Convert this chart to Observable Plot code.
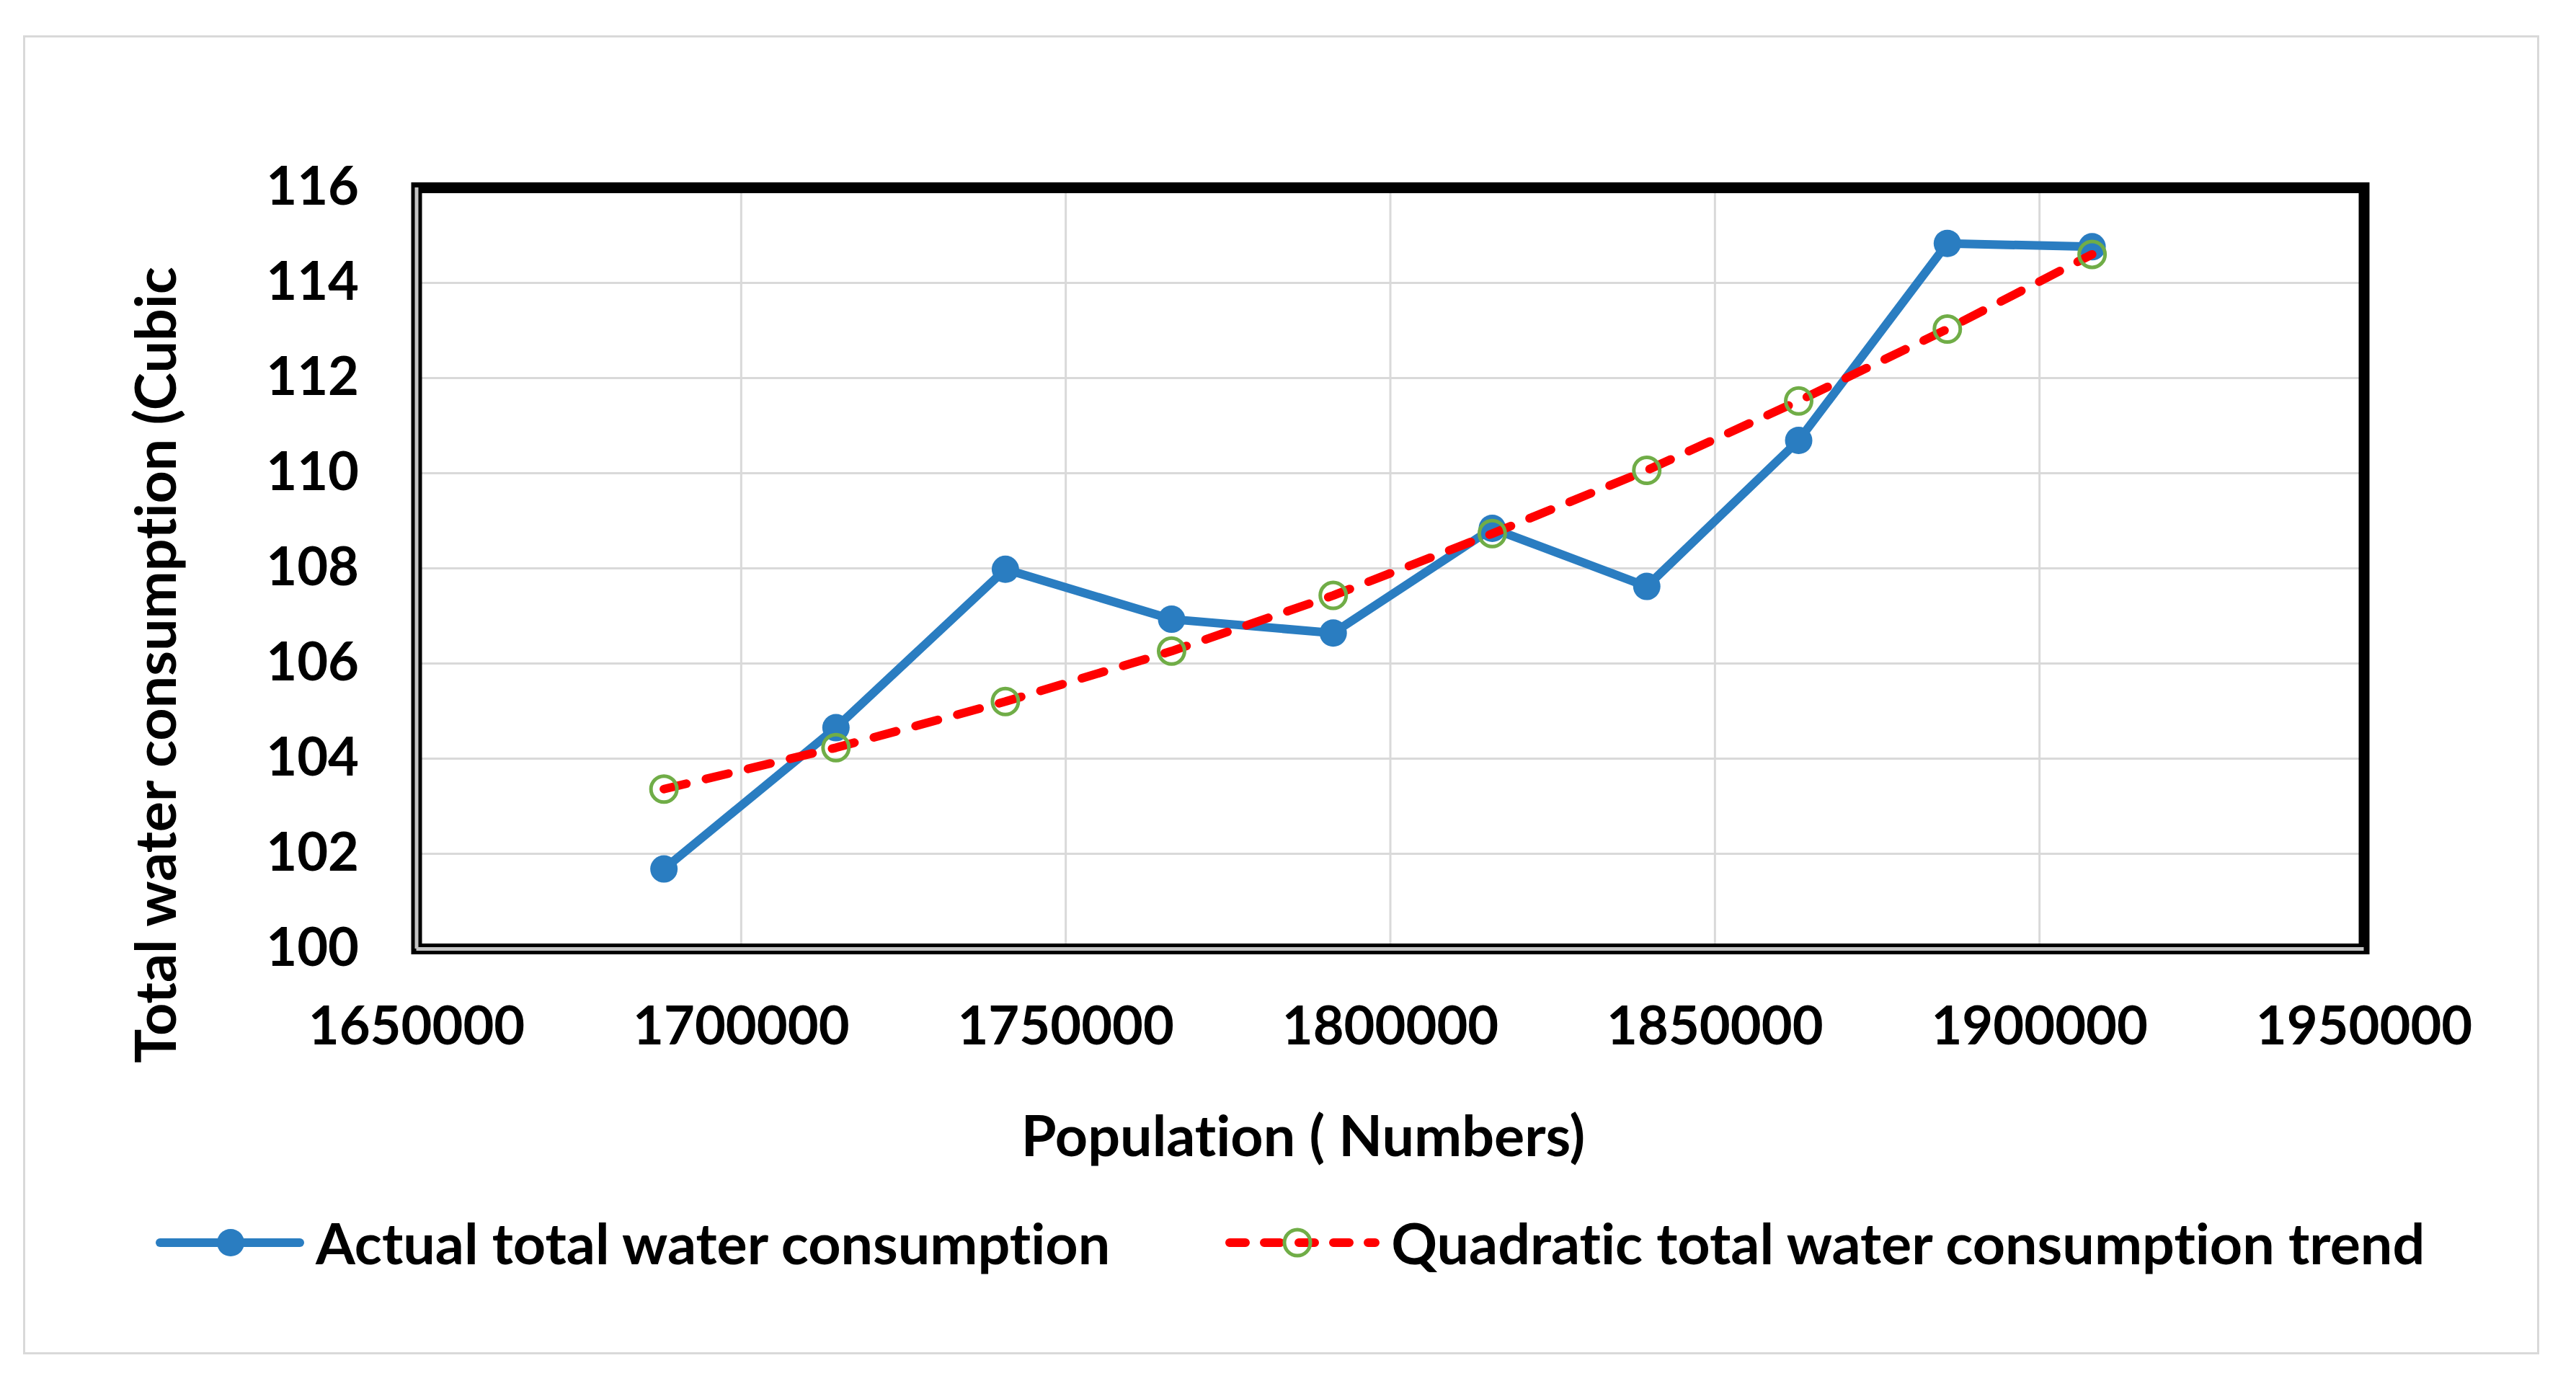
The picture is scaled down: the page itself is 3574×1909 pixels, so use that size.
<!DOCTYPE html>
<html lang="en">

<head>
    <meta charset="UTF-8">
    <title>Total water consumption vs population</title>
    <style>
        body {
            margin: 0;
            padding: 0;
            background-color: #ffffff;
            font-family: 'Lato', 'Noto Sans', sans-serif;
            font-variant-ligatures: none;
        }

        #page {
            position: relative;
            width: 3574px;
            height: 1909px;
            overflow: hidden;
        }

        #box {
            position: absolute;
            left: 32px;
            top: 49px;
            width: 3491px;
            height: 1830px;
            border: 3px solid #d9d9d9;
            box-sizing: border-box;
        }

        #chart {
            position: absolute;
            left: 0;
            top: 0;
        }

        #chart text {
            font-variant-ligatures: none;
        }

        #legend {
            position: absolute;
            left: 216px;
            top: 1676px;
            display: flex;
            align-items: center;
            font-weight: bold;
            font-size: 79px;
            color: #000000;
            white-space: nowrap;
        }

        #legend .item {
            display: flex;
            align-items: center;
        }

        #legend .item svg {
            margin-right: 16px;
        }
    </style>
</head>

<body>

    <div id="page">
        <div id="box"></div>
        <div id="chart"></div>
        <div id="legend">
            <div class="item">
                <svg width="206" height="50">
                    <line x1="6" y1="25" x2="200" y2="25" stroke="#2a7dc1" stroke-width="12" stroke-linecap="round"></line>
                    <circle cx="104" cy="25" r="19" fill="#2a7dc1"></circle>
                </svg>
                <span id="lab1"></span>
            </div>
            <div class="item" style="margin-left:160px">
                <svg width="214" height="50">
                    <line x1="6" y1="25" x2="208" y2="25" stroke="#ff0000" stroke-width="12" stroke-linecap="round" stroke-dasharray="22,26"></line>
                    <circle cx="100" cy="25" r="18" fill="none" stroke="#70ad47" stroke-width="5"></circle>
                </svg>
                <span id="lab2"></span>
            </div>
        </div>
    </div>

    <script src="https://cdn.jsdelivr.net/npm/d3@7"></script>
    <script src="https://cdn.jsdelivr.net/npm/@observablehq/plot@0.6"></script>

    <script>
        // values
        const population = [1688100, 1714600, 1740700, 1766300, 1791200, 1815700, 1839500, 1862900, 1885800, 1908100];
        const actualConsumption = [101.68, 104.65, 107.98, 106.93, 106.64, 108.84, 107.62, 110.69, 114.83, 114.76];
        const quadraticTrend = [103.36, 104.23, 105.2, 106.26, 107.43, 108.73, 110.06, 111.52, 113.03, 114.6];

        const xTicks = [1650000, 1700000, 1750000, 1800000, 1850000, 1900000, 1950000];
        const yTicks = [100, 102, 104, 106, 108, 110, 112, 114, 116];

        const yTitle = "Total water consumption (Cubic";
        const xTitle = "Population ( Numbers)";
        const seriesNames = ["Actual total water consumption", "Quadratic total water consumption trend"];

        const actual = population.map((p, i) => ({ pop: p, value: actualConsumption[i] }));
        const trend = population.map((p, i) => ({ pop: p, value: quadraticTrend[i] }));

        const blue = "#2a7dc1";
        const grid = "#d9d9d9";

        const chart = Plot.plot({
            width: 3574,
            height: 1660,
            marginLeft: 577.5,
            marginRight: 294.5,
            marginTop: 260,
            marginBottom: 344,
            style: {
                fontFamily: "Lato, 'Noto Sans', sans-serif",
                fontWeight: "bold",
                fontSize: "74px",
                color: "#000000",
                background: "transparent"
            },
            x: { domain: [1650000, 1950000] },
            y: { domain: [100, 116] },
            marks: [
                Plot.gridX(xTicks, { stroke: grid, strokeOpacity: 1, strokeWidth: 3 }),
                Plot.gridY(yTicks, { stroke: grid, strokeOpacity: 1, strokeWidth: 3 }),
                Plot.axisX(xTicks, { tickSize: 0, tickPadding: 80, tickFormat: d3.format("d"), label: null }),
                Plot.axisY(yTicks, { tickSize: 0, tickPadding: 80, tickFormat: d3.format("d"), label: null }),
                Plot.frame({ stroke: "#000000", strokeWidth: 15 }),
                // grey inner line of the double border on the left and bottom
                Plot.ruleX([1650000], { stroke: "#c4c4c4", strokeWidth: 5 }),
                Plot.ruleY([100], { stroke: "#c4c4c4", strokeWidth: 5 }),
                Plot.line(actual, { x: "pop", y: "value", stroke: blue, strokeWidth: 12 }),
                Plot.dot(actual, { x: "pop", y: "value", r: 19, fill: blue, stroke: null }),
                Plot.line(trend, { x: "pop", y: "value", stroke: "#ff0000", strokeWidth: 12, strokeDasharray: "32,28", strokeLinecap: "round" }),
                Plot.dot(trend, { x: "pop", y: "value", r: 18, fill: "none", stroke: "#70ad47", strokeWidth: 5 }),
                Plot.text([yTitle], { frameAnchor: "left", dx: -359, dy: 134, rotate: -90, textAnchor: "middle", fontSize: 79, fill: "#000000" }),
                Plot.text([xTitle], { frameAnchor: "bottom", dx: -121, dy: 287, textAnchor: "middle", fontSize: 79, fill: "#000000" })
            ]
        });

        document.querySelector("#chart").append(chart);
        document.querySelector("#lab1").textContent = seriesNames[0];
        document.querySelector("#lab2").textContent = seriesNames[1];
    </script>

</body>

</html>
